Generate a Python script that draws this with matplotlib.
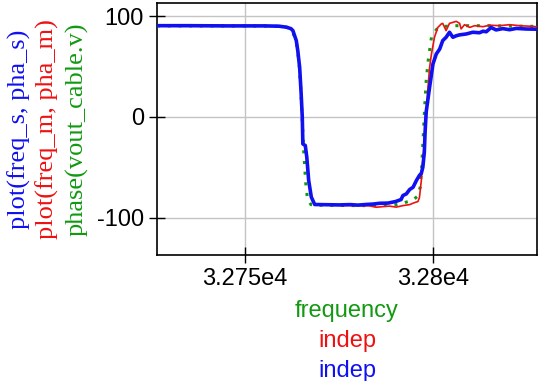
import numpy as np
import matplotlib
matplotlib.use('Agg')
import matplotlib.pyplot as plt

plt.rcParams['axes.unicode_minus'] = False

# phase(vout_cable.v) vs frequency (green dotted)
freq = np.array([32726.5, 32740, 32755, 32759, 32761, 32762, 32763, 32763.7, 32764.3,
                 32764.8, 32765.2, 32765.6, 32766.1, 32766.6, 32767.5, 32770, 32780,
                 32786, 32790, 32792.4, 32794.5, 32795.8, 32796.6, 32797.0, 32797.4,
                 32797.8, 32798.2, 32798.7, 32799.6, 32800.4, 32801.0, 32802.5, 32805,
                 32810, 32815, 32820, 32827.5])
phase_v = np.array([90.3, 90.3, 90.2, 89.8, 89, 87, 81, 72, 55,
                    28, -5, -35, -65, -82, -87, -87.6, -88,
                    -88, -87.2, -85, -83, -79, -70, -50, -20,
                    10, 36, 55, 79, 84, 87, 89.5, 90.5,
                    90.5, 90.5, 90.2, 89.8])

# plot(freq_m, pha_m) (red)
freq_m = np.array([32726.5, 32740, 32755, 32759, 32761, 32762.2, 32762.7, 32763.6, 32764.0,
                   32764.5, 32764.9, 32765.2, 32765.35, 32766.0, 32766.4, 32766.9, 32767.6,
                   32768.5, 32772, 32776, 32780, 32783, 32784.9, 32786.7, 32788.4, 32790.2,
                   32792.0, 32793.8, 32795.1, 32796.0, 32796.4, 32796.9, 32797.3, 32797.8,
                   32798.2, 32798.6, 32799.1, 32799.6, 32800.4, 32801.3, 32802.2, 32802.6,
                   32803.5, 32804.4, 32805.3, 32806.2, 32807.1, 32807.5, 32808.4, 32809.8,
                   32811.1, 32813.3, 32815.1, 32817.7, 32820.4, 32823.1, 32825.7, 32827.5])
pha_m = np.array([90.5, 90.5, 90.3, 90, 89, 87.5, 85.6, 75.7, 65.7,
                  49, 22.6, -0.4, -26.8, -28.4, -40, -63, -79.5,
                  -87.5, -87.5, -87.8, -88, -88.2, -89.6, -89, -88.5, -89.5,
                  -88, -87, -85, -84, -80, -63, -43, -23.5,
                  -0.4, 26, 49, 62.5, 79, 88.8, 92.2, 92.8,
                  85.6, 92.8, 93.8, 94.8, 92.8, 87.3, 91.5, 88.8,
                  90.5, 89.5, 91, 90.5, 91.5, 90.5, 90, 89.5])

# plot(freq_s, pha_s) (blue)
freq_s = np.array([32726.5, 32735, 32745, 32755, 32759, 32761, 32762.2, 32762.7, 32763.6,
                   32764.0, 32764.5, 32764.9, 32765.2, 32765.35, 32766.0, 32766.4, 32766.9,
                   32767.6, 32768.5, 32770, 32775, 32778, 32780, 32782.5, 32784, 32785.8,
                   32788, 32790, 32791.5, 32792, 32792.9, 32793.8, 32794.7, 32795.6,
                   32796.4, 32796.9, 32797.3, 32797.7, 32797.9, 32798.2, 32799.1, 32800.0,
                   32800.9, 32801.8, 32802.6, 32803.5, 32804.4, 32805.3, 32806.2, 32807.1,
                   32808.9, 32810.6, 32812.4, 32813.3, 32814.2, 32815.5, 32816.8, 32818.6,
                   32820.4, 32822.2, 32824.9, 32827.5])
pha_s = np.array([90.5, 90.5, 90.3, 90.3, 90.0, 89.0, 87.5, 85.6, 75.7,
                  65.7, 49, 22.6, -0.4, -26.8, -28.4, -40, -63,
                  -79.5, -86.9, -87, -87.3, -87.0, -87.5, -86.8, -86.5, -85.7,
                  -85.5, -84, -82, -78, -76.4, -72, -69.8, -63,
                  -58, -56, -50, -35, -15, 5, 29.4, 52.6,
                  62.5, 67.4, 75.7, 79, 84, 79, 80.5, 81.4,
                  82.3, 84, 83.5, 85, 84.5, 88.7, 86.3, 87.6,
                  86.5, 87.8, 87.2, 87])

xticks = [32750, 32800]
xticklabels = ['3.275e4', '3.28e4']
yticks = [-100, 0, 100]

sans = 'Liberation Sans'
serif = 'Liberation Serif'

fig = plt.figure(figsize=(5.4, 3.81), dpi=100)
ax = fig.add_axes([0.2907, 0.3307, 0.7037, 0.6614])

ax.plot(freq, phase_v, color='#119911', lw=2.2, linestyle=(0, (1, 2.5)), zorder=3)
ax.plot(freq_m, pha_m, color='#ee1111', lw=1.2, zorder=4)
ax.plot(freq_s, pha_s, color='#1010f0', lw=2.6, zorder=5)

ax.set_xlim(32726.5, 32827.7)
ax.set_ylim(-137, 113)
ax.set_xticks(xticks)
ax.set_xticklabels(xticklabels)
ax.set_yticks(yticks)
ax.grid(True, color='#c4c4c4', lw=1)
ax.set_axisbelow(True)
for sp in ax.spines.values():
    sp.set_linewidth(1.2)
ax.tick_params(direction='inout', length=11, width=1.0, labelsize=17, pad=4)
for lab in ax.get_xticklabels() + ax.get_yticklabels():
    lab.set_family(sans)

# y label: three coloured lines, serif
ylabs = [('plot(freq_s, pha_s)', '#1010f0', 0.036),
         ('plot(freq_m, pha_m)', '#ee1111', 0.088),
         ('phase(vout_cable.v)', '#119911', 0.1417)]
for txt, col, xx in ylabs:
    fig.text(xx, 0.661, txt, rotation=90, ha='center', va='center',
             color=col, fontsize=19, family=serif)

# x label: three coloured lines
xlabs = [('frequency', '#119911', 1 - 316.7 / 381),
         ('indep', '#ee1111', 1 - 347 / 381),
         ('indep', '#1010f0', 1 - 376.7 / 381)]
for txt, col, yy in xlabs:
    fig.text(0.6426, yy, txt, ha='center', va='baseline',
             color=col, fontsize=17, family=sans)

fig.savefig('out.png', dpi=100)
